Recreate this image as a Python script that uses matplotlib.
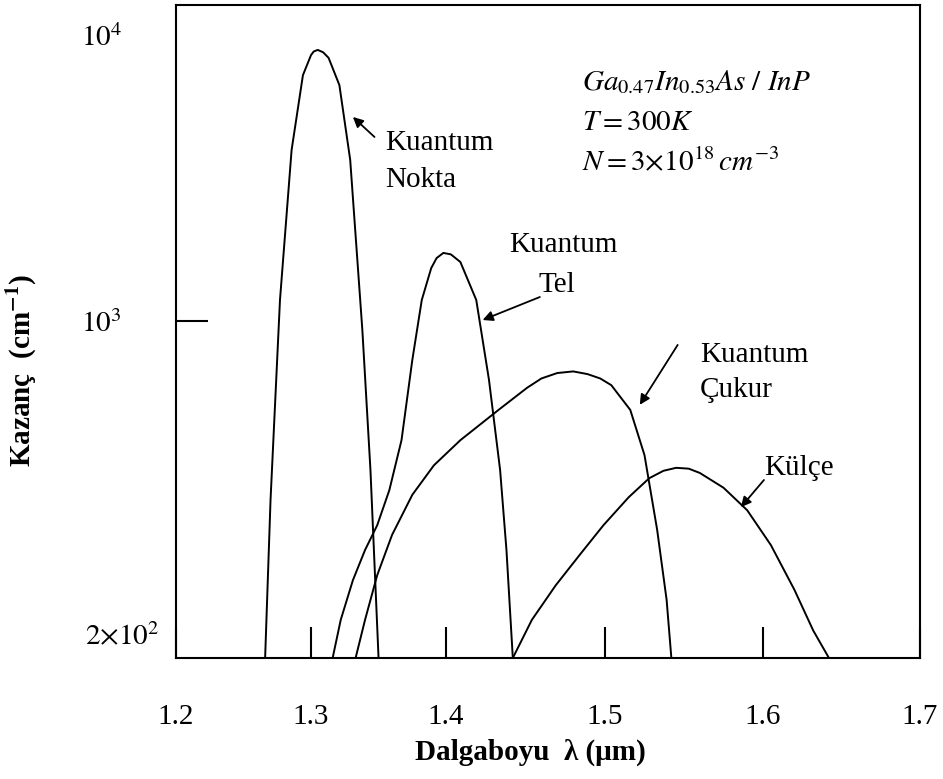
import numpy as np
import matplotlib
matplotlib.use("Agg")
import matplotlib.pyplot as plt
import matplotlib.transforms as mtransforms

plt.rcParams['font.family'] = ['Liberation Serif', 'DejaVu Serif']
plt.rcParams['mathtext.fontset'] = 'stix'

# gain curves: wavelength (um), gain (cm^-1)
nokta_x = [1.266, 1.270, 1.277, 1.2856, 1.294, 1.300, 1.302, 1.305, 1.309, 1.313,
           1.321, 1.329, 1.338, 1.344, 1.350]
nokta_y = [200, 425, 1184, 3960, 7240, 8510, 8760, 8870, 8700, 8320,
           6680, 3660, 958, 491, 200]

tel_x = [1.316, 1.322, 1.331, 1.340, 1.349, 1.358, 1.367, 1.375, 1.382, 1.389, 1.393,
         1.398, 1.403, 1.409, 1.419, 1.427, 1.434, 1.438, 1.442]
tel_y = [200, 240, 290, 335, 377, 446, 566, 830, 1184, 1531, 1660,
         1730, 1710, 1608, 1184, 755, 491, 335, 200]

cukur_x = [1.333, 1.340, 1.349, 1.360, 1.375, 1.391, 1.409, 1.433, 1.451, 1.460, 1.470,
           1.480, 1.489, 1.497, 1.504, 1.516, 1.525, 1.533, 1.539, 1.542]
cukur_y = [200, 240, 297, 360, 436, 502, 566, 654, 727, 760, 780,
           786, 776, 760, 736, 654, 527, 369, 264, 200]

kulce_x = [1.442, 1.454, 1.469, 1.484, 1.499, 1.515, 1.528, 1.537, 1.545, 1.553, 1.560,
           1.575, 1.590, 1.605, 1.620, 1.632, 1.642]
kulce_y = [200, 240, 283, 327, 377, 431, 472, 489, 496, 494, 484,
           451, 405, 343, 277, 228, 200]

x_ticks = [1.2, 1.3, 1.4, 1.5, 1.6, 1.7]
x_labels = ['1.2', '1.3', '1.4', '1.5', '1.6', '1.7']
y_ticks = [200, 1000, 10000]
y_labels = [r'$2{\times}10^{2}$', r'$10^{3}$', r'$10^{4}$']

# the drawing is not evenly spaced: where each wavelength tick sits along the axis
x_frac = [0.0, 0.1815, 0.363, 0.5766, 0.789, 1.0]
# the lower decade is drawn stretched
K = 1.686


def x_fwd(x):
    return np.interp(x, x_ticks, x_frac)


def x_inv(f):
    return np.interp(f, x_frac, x_ticks)


def y_fwd(y):
    ly = np.log10(np.clip(np.asarray(y, dtype=float), 1e-12, None)) - 3
    return np.where(ly >= 0, ly, ly * K)


def y_inv(f):
    f = np.asarray(f, dtype=float)
    return np.where(f >= 0, 10 ** (f + 3), 10 ** (f / K + 3))


FS = 21

fig = plt.figure(figsize=(9.43, 7.79), dpi=100)
ax = fig.add_axes([176 / 943, 121 / 779, 744 / 943, 653 / 779])
ax.set_xscale('function', functions=(x_fwd, x_inv))
ax.set_yscale('function', functions=(y_fwd, y_inv))
ax.set_xlim(1.2, 1.7)
ax.set_ylim(200, 12735)

for xs, ys in [(nokta_x, nokta_y), (tel_x, tel_y), (cukur_x, cukur_y), (kulce_x, kulce_y)]:
    ax.plot(xs, ys, color='black', lw=1.4, solid_joinstyle='round')

ax.set_xticks(x_ticks)
ax.set_xticklabels(x_labels, fontsize=FS)
ax.xaxis.set_minor_locator(plt.NullLocator())
ax.tick_params(axis='x', direction='in', length=22, width=1.5, pad=33)

ax.set_yticks(y_ticks)
ax.set_yticklabels(y_labels, fontsize=FS)
ax.yaxis.set_minor_locator(plt.NullLocator())
ax.tick_params(axis='y', direction='in', length=23, width=1.5, pad=39)
yt = ax.yaxis.get_major_ticks()
yt[0].tick1line.set_visible(False)
yt[2].tick1line.set_visible(False)
shift = mtransforms.ScaledTranslation(38 / 100, 24 / 100, fig.dpi_scale_trans)
yt[0].label1.set_transform(yt[0].label1.get_transform() + shift)

for s in ax.spines.values():
    s.set_linewidth(1.5)

# curve names
ax.text(1.355, 4193, 'Kuantum', fontsize=FS, va='center')
ax.text(1.355, 3112, 'Nokta', fontsize=FS, va='center')
ax.text(1.440, 1844, 'Kuantum', fontsize=FS, va='center')
ax.text(1.458, 1336, 'Tel', fontsize=FS, va='center')
ax.text(1.560, 850, 'Kuantum', fontsize=FS, va='center')
ax.text(1.560, 719, 'Çukur', fontsize=FS, va='center')
ax.text(1.601, 496, 'Külçe', fontsize=FS, va='center')

arrow = dict(arrowstyle='-|>', color='black', lw=1.3, mutation_scale=15, shrinkA=0, shrinkB=0)
ax.annotate('', xy=(1.331, 5169), xytext=(1.347, 4400), arrowprops=arrow)
ax.annotate('', xy=(1.423, 1008), xytext=(1.459, 1213), arrowprops=arrow)
ax.annotate('', xy=(1.522, 670), xytext=(1.546, 892), arrowprops=arrow)
ax.annotate('', xy=(1.586, 411), xytext=(1.6006, 468), arrowprops=arrow)

ax.text(1.4855, 6424, r'$Ga_{0.47}In_{0.53}As\ /\ InP$', fontsize=FS, va='baseline')
ax.text(1.4855, 4655, r'$T = 300K$', fontsize=FS, va='baseline')
ax.text(1.4855, 3373, r'$N = 3{\times}10^{18}\,cm^{-3}$', fontsize=FS, va='baseline')

fig.text(530 / 943, 1 - 752 / 779, 'Dalgaboyu  λ (μm)', fontsize=FS,
         fontweight='bold', ha='center', va='center')
fig.text(22 / 943, 1 - 370 / 779, r'Kazanç  (cm$^{\mathbf{-1}}$)', fontsize=FS,
         fontweight='bold', ha='center', va='center', rotation=90)

fig.savefig('out.png', dpi=100)
